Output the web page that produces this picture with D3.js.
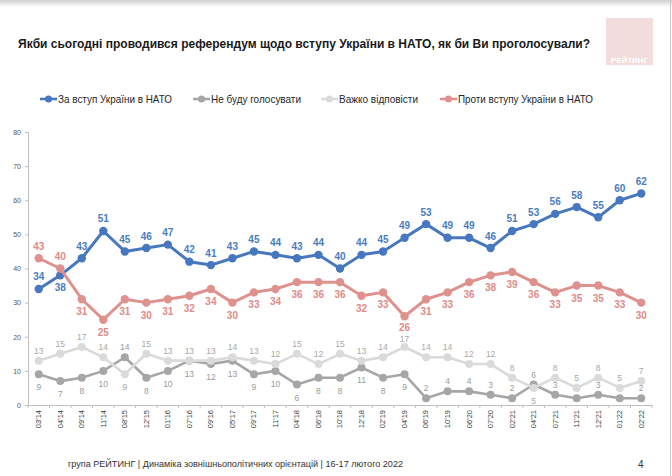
<!DOCTYPE html>
<html>
<head>
<meta charset="utf-8">
<script src="https://cdn.jsdelivr.net/npm/d3@7"></script>
<style>
  body { margin: 0; background: #fff; }
  svg { display: block; font-family: "Liberation Sans Narrow", "Arial Narrow", "Liberation Sans", Arial, sans-serif; }
</style>
</head>
<body>
<svg id="chart" width="672" height="476"></svg>
<script>
// survey waves
const periods = ["03'14", "04'14", "09'14", "11'14", "08'15", "12'15", "01'16", "07'16", "09'16", "05'17",
  "09'17", "11'17", "04'18", "06'18", "10'18", "12'18", "02'19", "04'19", "06'19", "10'19",
  "06'20", "07'20", "02'21", "04'21", "07'21", "11'21", "12'21", "01'22", "02'22"];

// % of respondents
const forJoining = [34, 38, 43, 51, 45, 46, 47, 42, 41, 43, 45, 44, 43, 44, 40, 44, 45, 49, 53, 49, 49, 46, 51, 53, 56, 58, 55, 60, 62];
const wontVote = [9, 7, 8, 10, 14, 8, 10, 13, 12, 13, 9, 10, 6, 8, 8, 11, 8, 9, 2, 4, 4, 3, 2, 6, 3, 2, 3, 2, 2];
const hardToSay = [13, 15, 17, 14, 9, 15, 13, 13, 13, 14, 13, 12, 15, 12, 15, 13, 14, 17, 14, 14, 12, 12, 8, 5, 8, 5, 8, 5, 7];
const against = [43, 40, 31, 25, 31, 30, 31, 32, 34, 30, 33, 34, 36, 36, 36, 32, 33, 26, 31, 33, 36, 38, 39, 36, 33, 35, 35, 33, 30];

const seriesNames = ["За вступ України в НАТО", "Не буду голосувати", "Важко відповісти", "Проти вступу України в НАТО"];
const yTicks = [0, 10, 20, 30, 40, 50, 60, 70, 80];

const titleText = "Якби сьогодні проводився референдум щодо вступу України в НАТО, як би Ви проголосували?";
const footerText = "група РЕЙТИНГ |  Динаміка зовнішньополітичних орієнтацій | 16-17 лютого 2022";

const svg = d3.select("#chart");

// slide frame: soft shadow on top, thin edge on the right
const grad = svg.append("defs").append("linearGradient")
  .attr("id", "topShade").attr("x1", 0).attr("y1", 0).attr("x2", 0).attr("y2", 1);
grad.append("stop").attr("offset", "0%").attr("stop-color", "#cfcfcf");
grad.append("stop").attr("offset", "100%").attr("stop-color", "#fff");
svg.append("rect").attr("x", 0).attr("y", 0).attr("width", 672).attr("height", 7).attr("fill", "url(#topShade)");
svg.append("line").attr("x1", 670.5).attr("x2", 670.5).attr("y1", 0).attr("y2", 476)
  .attr("stroke", "#c8c8c8").attr("stroke-width", 1);

// title
svg.append("text")
  .attr("x", 18).attr("y", 48)
  .attr("font-size", 13.5).attr("font-weight", "bold").attr("fill", "#1a1a1a")
  .attr("textLength", 572).attr("lengthAdjust", "spacingAndGlyphs")
  .text(titleText);

// logo block
svg.append("rect").attr("x", 606).attr("y", 18).attr("width", 47).attr("height", 47).attr("fill", "#f3dcdc");
svg.append("text").attr("x", 629.5).attr("y", 63).attr("text-anchor", "middle")
  .attr("font-size", 8).attr("font-weight", "bold").attr("fill", "#fff")
  .text("РЕЙТИНГ");

// scales
const x = d3.scaleBand().domain(periods).range([28, 652]);
const y = d3.scaleLinear().domain([0, 80]).range([405, 132]);
const cx = d => x(d) + x.bandwidth() / 2;

// y axis
const yAxis = svg.append("g").attr("transform", "translate(28,0)")
  .call(d3.axisLeft(y).tickValues(yTicks).tickSize(3).tickPadding(4));
yAxis.select(".domain").attr("stroke", "#bfbfbf");
yAxis.selectAll(".tick line").attr("stroke", "#bfbfbf");
yAxis.selectAll(".tick text").attr("font-size", 7).attr("fill", "#595959").attr("font-family", null);

// x axis: ticks sit on band boundaries
const xAxis = svg.append("g").attr("transform", "translate(0,405)")
  .call(d3.axisBottom(x).tickSize(0).tickPadding(0));
xAxis.select(".domain").attr("stroke", "#bfbfbf");
xAxis.selectAll(".tick text")
  .attr("font-size", 7.5).attr("fill", "#3a3a3a").attr("font-family", null)
  .attr("text-anchor", "end").attr("dy", "0.32em")
  .attr("transform", "translate(0,5) rotate(-90)")
  .attr("x", 0).attr("y", 0);
xAxis.selectAll(".bound")
  .data(periods.concat([null]))
  .join("line")
  .attr("x1", (d, i) => 28 + i * x.step()).attr("x2", (d, i) => 28 + i * x.step())
  .attr("y1", 0).attr("y2", 3)
  .attr("stroke", "#bfbfbf");

// series styling and where each label goes
const series = [
  { name: seriesNames[0], values: forJoining, color: "#4677bf", text: "#4a7dc0", width: 3, r: 4.2,
    size: 10, weight: "bold", below: i => i === 1 },
  { name: seriesNames[1], values: wontVote, color: "#a6a6a6", text: "#9a9a9a", width: 2.6, r: 4,
    size: 8.5, weight: "normal", below: i => i < 18 && i !== 4 },
  { name: seriesNames[2], values: hardToSay, color: "#dadada", text: "#a8a8a8", width: 2.6, r: 4,
    size: 8.5, weight: "normal", below: i => i === 4 || i === 23 },
  { name: seriesNames[3], values: against, color: "#df918e", text: "#e08b88", width: 3, r: 4.2,
    size: 10, weight: "bold", below: i => i > 1 }
];

const line = d3.line().x(d => cx(d.p)).y(d => y(d.v));
const labelNodes = [];

series.forEach(s => {
  const pts = periods.map((p, i) => ({ p, v: s.values[i], i }));
  const g = svg.append("g");
  g.append("path").datum(pts)
    .attr("d", line).attr("fill", "none")
    .attr("stroke", s.color).attr("stroke-width", s.width).attr("stroke-linejoin", "round");
  g.selectAll("circle").data(pts).join("circle")
    .attr("cx", d => cx(d.p)).attr("cy", d => y(d.v)).attr("r", s.r)
    .attr("fill", s.color);
  const big = s.size >= 10;
  g.selectAll("text").data(pts).join("text")
    .attr("x", d => cx(d.p))
    .attr("y", d => y(d.v) + (s.below(d.i) ? (big ? 16 : 16) : (big ? -8.5 : -7)))
    .attr("text-anchor", "middle")
    .attr("font-size", s.size).attr("font-weight", s.weight).attr("fill", s.text)
    .text(d => d.v)
    .each(function () { labelNodes.push(this); });
});

// pull apart the few labels that touch each other
for (let a = 0; a < labelNodes.length; a++) {
  for (let b = a + 1; b < labelNodes.length; b++) {
    const A = labelNodes[a].getBBox(), B = labelNodes[b].getBBox();
    const xo = Math.min(A.x + A.width, B.x + B.width) - Math.max(A.x, B.x);
    const yo = Math.min(A.y + A.height, B.y + B.height) - Math.max(A.y, B.y);
    if (xo > 0 && yo > 0) {
      const [top, bot] = A.y < B.y ? [labelNodes[a], labelNodes[b]] : [labelNodes[b], labelNodes[a]];
      const shift = yo / 2 + 0.5;
      d3.select(top).attr("y", +d3.select(top).attr("y") - shift);
      d3.select(bot).attr("y", +d3.select(bot).attr("y") + shift);
    }
  }
}

// legend
const legendX = [40, 193, 321, 440];
const legendW = [114, 90, 79, 135];
const legend = svg.append("g").selectAll("g").data(series).join("g")
  .attr("transform", (d, i) => `translate(${legendX[i]},99)`);
legend.append("line").attr("x1", 0).attr("x2", 17)
  .attr("stroke", d => d.color).attr("stroke-width", 2.6);
legend.append("circle").attr("cx", 8.5).attr("r", 3.5).attr("fill", d => d.color);
legend.append("text").attr("x", 18).attr("y", 3.7)
  .attr("font-size", 10.5).attr("fill", "#262626")
  .attr("textLength", (d, i) => legendW[i]).attr("lengthAdjust", "spacingAndGlyphs")
  .text(d => d.name);

// footer
svg.append("text").attr("x", 68).attr("y", 467)
  .attr("font-size", 9).attr("fill", "#333")
  .attr("textLength", 335).attr("lengthAdjust", "spacingAndGlyphs")
  .text(footerText);
svg.append("text").attr("x", 638).attr("y", 468)
  .attr("font-size", 10).attr("fill", "#333")
  .text("4");
</script>
</body>
</html>
